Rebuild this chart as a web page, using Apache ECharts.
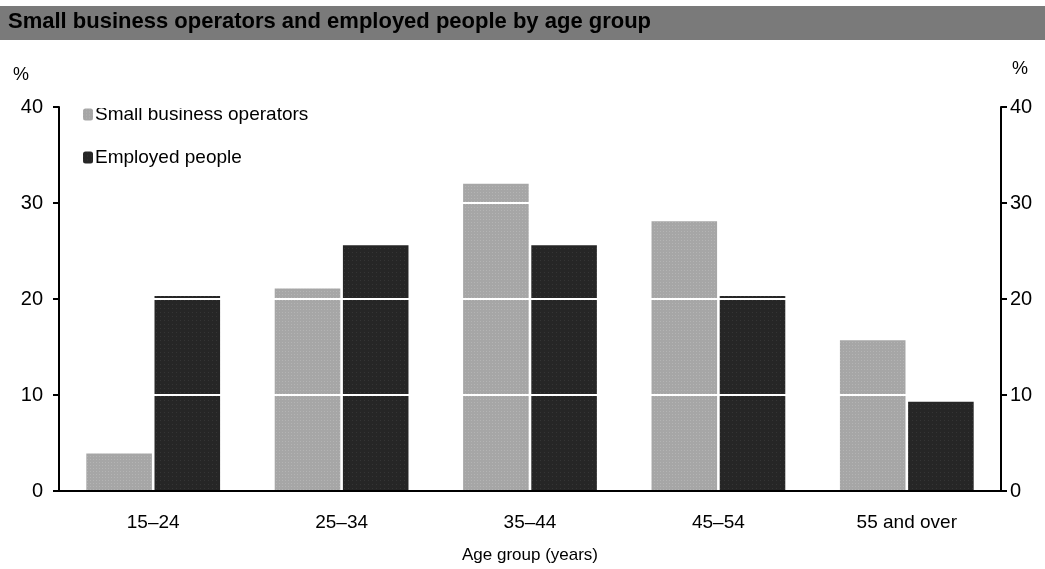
<!DOCTYPE html>
<html><head><meta charset="utf-8">
<script src="https://cdn.jsdelivr.net/npm/echarts@6/dist/echarts.min.js"></script>
<style>html,body{margin:0;padding:0;background:#fff}#c{width:1045px;height:569px}</style>
</head><body><div id="c"></div>
<script>
var categories = ['15\u201324', '25\u201334', '35\u201344', '45\u201354', '55 and over'];
var smallBusinessOperators = [3.9, 21.1, 32.0, 28.1, 15.7];
var employedPeople = [20.3, 25.6, 25.6, 20.3, 9.3];
var yTicks = [0, 10, 20, 30, 40];

var chart = echarts.init(document.getElementById('c'));
var font = 'Liberation Sans';
chart.setOption({
  animation: false,
  backgroundColor: '#fff',
  graphic: [
    {type: 'rect', left: 0, top: 6, shape: {width: 1045, height: 34}, style: {fill: '#7a7a7a'}, z: 1},
    {type: 'text', left: 8, top: 11, style: {text: 'Small business operators and employed people by age group', fill: '#000', font: 'bold 22px "Liberation Sans"'}, z: 2},
    {type: 'text', left: 13, top: 66, style: {text: '%', fill: '#000', font: '18px "Liberation Sans"'}},
    {type: 'text', left: 1012, top: 60, style: {text: '%', fill: '#000', font: '18px "Liberation Sans"'}}
  ],
  legend: {
    orient: 'vertical', left: 78, top: 100, itemWidth: 10, itemHeight: 12, itemGap: 24,
    textStyle: {fontFamily: font, fontSize: 19, color: '#000', padding: [0, 0, 0, -3]},
    data: ['Small business operators', 'Employed people']
  },
  grid: {left: 59, right: 44, top: 107, bottom: 76},
  xAxis: {
    type: 'category', data: categories, z: 6,
    axisLine: {lineStyle: {color: '#000', width: 2}},
    axisTick: {show: false},
    axisLabel: {fontFamily: font, fontSize: 19, color: '#000', margin: 22},
    name: 'Age group (years)', nameLocation: 'middle', nameGap: 56,
    nameTextStyle: {fontFamily: font, fontSize: 17, color: '#000'}
  },
  yAxis: [
    {type: 'value', min: yTicks[0], max: yTicks[yTicks.length - 1], interval: 10, position: 'left', z: 5,
      axisLine: {show: true, lineStyle: {color: '#000', width: 2}},
      axisTick: {show: true, length: 6, lineStyle: {color: '#000', width: 2}},
      axisLabel: {fontFamily: font, fontSize: 20, color: '#000', margin: 16},
      splitLine: {show: true, lineStyle: {color: '#fff', width: 2}}},
    {type: 'value', min: yTicks[0], max: yTicks[yTicks.length - 1], interval: 10, position: 'right', z: 5,
      axisLine: {show: true, lineStyle: {color: '#000', width: 2}},
      axisTick: {show: true, length: 6, lineStyle: {color: '#000', width: 2}},
      axisLabel: {fontFamily: font, fontSize: 20, color: '#000', margin: 9},
      splitLine: {show: false}}
  ],
  series: [
    {name: 'Small business operators', type: 'bar', data: smallBusinessOperators,
      barGap: '4%', barCategoryGap: '29%',
      itemStyle: {color: '#a6a6a6', decal: {symbol: 'rect', symbolSize: 0.6, color: 'rgba(255,255,255,0.55)', dashArrayX: [[1, 2]], dashArrayY: [1, 2], rotation: 0}}},
    {name: 'Employed people', type: 'bar', data: employedPeople,
      itemStyle: {color: '#262626', decal: {symbol: 'rect', symbolSize: 0.6, color: 'rgba(140,140,140,0.5)', dashArrayX: [[1, 3]], dashArrayY: [1, 3], rotation: 0}}}
  ]
});
</script></body></html>
